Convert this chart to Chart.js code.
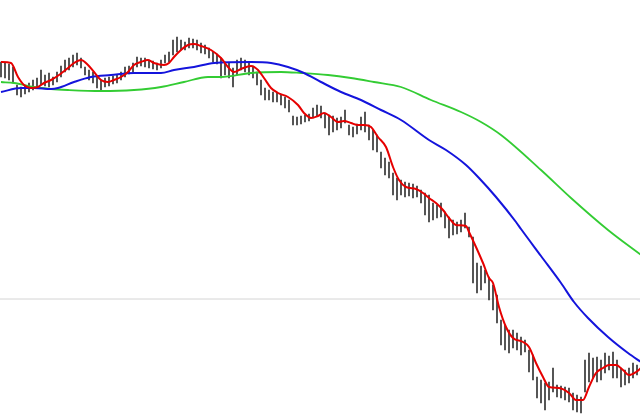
<!DOCTYPE html>
<html>
<head>
<meta charset="utf-8">
<script src="https://cdn.jsdelivr.net/npm/chart.js@4"></script>
<style>
  html, body { margin: 0; padding: 0; background: #fff; }
  #wrap { width: 640px; height: 415px; position: relative; }
</style>
</head>
<body>
<div id="wrap"><canvas id="kChart"></canvas></div>
<script>
// values; the price axis is inverted (small = high)
const highs = [62,63,64,67,85,87,86,83,80,78,70,75,73,77,72,66,60,58,55,53,
  58,67,70,72,77,80,78,77,76,75,72,67,66,63,57,58,58,60,61,63,
  60,55,52,40,37,40,42,38,39,40,43,45,48,52,54,58,62,63,68,60,
  58,60,63,66,72,80,88,90,92,93,95,97,100,116,117,116,115,114,108,105,
  106,113,115,116,118,117,110,125,127,124,117,112,125,130,135,152,158,162,173,178,
  180,182,183,184,186,190,193,195,203,205,203,212,217,220,222,220,213,227,237,263,
  266,270,277,285,295,320,325,330,330,333,337,340,350,355,377,380,383,382,368,385,
  386,387,388,393,395,397,360,353,358,357,360,353,356,352,360,368,370,368,363,365];
const lows = [77,78,80,83,95,97,94,92,90,88,85,86,87,85,82,77,72,70,67,65,
  68,75,80,83,88,90,87,86,84,83,80,77,74,72,67,66,67,68,69,70,
  68,63,62,55,52,50,50,48,48,50,53,54,58,62,64,78,75,78,87,75,
  70,72,75,78,85,95,100,100,102,102,105,108,112,125,125,124,122,121,118,116,
  118,128,135,132,130,128,123,135,137,134,130,132,140,150,152,168,175,178,195,200,
  195,197,196,198,197,203,215,222,220,218,217,228,238,235,234,232,228,237,283,293,
  290,283,300,310,323,345,350,353,348,350,355,352,372,380,398,403,410,400,392,397,
  398,400,402,410,412,413,392,382,378,382,380,373,370,378,378,387,385,383,378,375];

// moving averages, sampled along the bar index
const redT = [0,2.5,4.25,5.75,7.5,9.25,10.75,12.5,14.5,16.75,18.25,20,21.75,23.25,25,26.75,28.25,30,31.75,33.25,
  35,36.75,38.25,40.75,42,43.25,45,46.75,48.25,50,52.5,55,56.75,58.25,60,62.5,64.25,65.75,67.5,69.25,
  71.75,74.25,75.75,77.5,79.25,80.75,82.5,84.25,85.75,87.5,89.25,90.75,92.5,94.25,96.25,98,99.5,101.25,103.75,105.5,
  107,108.75,110.5,112,113.75,116.25,117,118.75,120.5,122,123,124.5,126.25,128,130.5,132,133.75,135.5,137,139.5,
  142,143.75,145.5,147,148.75,150.5,152,153.75,155.5,157,158.75,160];
const redY = [62,63,77,85,88,87,83,80,75,68,63,60,65,72,80,82,80,77,72,65,
  62,60,63,65,63,57,50,45,44,46,50,58,67,72,69,66,70,78,88,93,
  97,105,113,118,116,113,117,122,121,123,125,125,127,137,147,167,180,187,189,193,
  198,203,210,218,225,226,232,247,263,278,283,307,327,338,342,347,363,377,387,388,
  393,400,400,387,373,368,365,365,370,375,372,368];

const blueT = [0,5,8.25,12.5,14.25,18.25,22.5,27.5,33.25,40,43.25,48.25,53.25,62.5,67.5,71.75,75.75,80,85,90,
  95,100,107,111.25,116.25,119.5,123.75,128.75,130,135,140,143.25,146.75,151.75,156.75,160];
const blueY = [92,88,88,89,88,82,77,75,73,73,70,67,63,62,63,67,73,82,92,100,
  110,120,140,150,165,178,197,222,229,256,283,302,318,337,353,362];

const greenT = [0,3.25,8.25,12.5,16.75,25,33.25,40,45.75,51.75,55,62.5,70,75,81.75,87.5,93.25,100,107.5,115,
  120,125,135,142.5,151.75,160];
const greenY = [82,83,87,89,90,91,90,87,82,77,77,73,72,73,75,78,82,87,100,112,
  122,135,170,198,230,255];

const refLevel = 299;

const pts = (t, y) => t.map((v, i) => ({ x: v, y: y[i] }));
const bars = highs.map((h, i) => ({ x: i, y: [h, lows[i]] }));
const lastIdx = highs.length - 1;

const lineDs = (label, data, color, width, order) => ({
  type: 'line',
  label: label,
  data: data,
  borderColor: color,
  borderWidth: width,
  pointRadius: 0,
  cubicInterpolationMode: 'monotone',
  order: order
});

new Chart(document.getElementById('kChart').getContext('2d'), {
  type: 'bar',
  data: {
    datasets: [
      {
        type: 'line',
        label: 'level',
        data: [{ x: -1, y: refLevel }, { x: lastIdx + 1, y: refLevel }],
        borderColor: '#d4d4d4',
        borderWidth: 1,
        pointRadius: 0,
        order: 20
      },
      {
        label: 'price',
        data: bars,
        backgroundColor: '#333333',
        barThickness: 1,
        order: 10
      },
      lineDs('green', pts(greenT, greenY), '#33cc33', 1.8, 3),
      lineDs('blue', pts(blueT, blueY), '#1414dc', 2, 2),
      lineDs('red', pts(redT, redY), '#e60000', 2, 1)
    ]
  },
  options: {
    responsive: true,
    maintainAspectRatio: false,
    animation: false,
    layout: { padding: 0 },
    plugins: {
      legend: { display: false },
      tooltip: { enabled: false }
    },
    scales: {
      x: { type: 'linear', min: -0.25, max: 159.75, offset: false, display: false },
      y: { min: 0, max: 415, reverse: true, display: false }
    }
  }
});
</script>
</body>
</html>
